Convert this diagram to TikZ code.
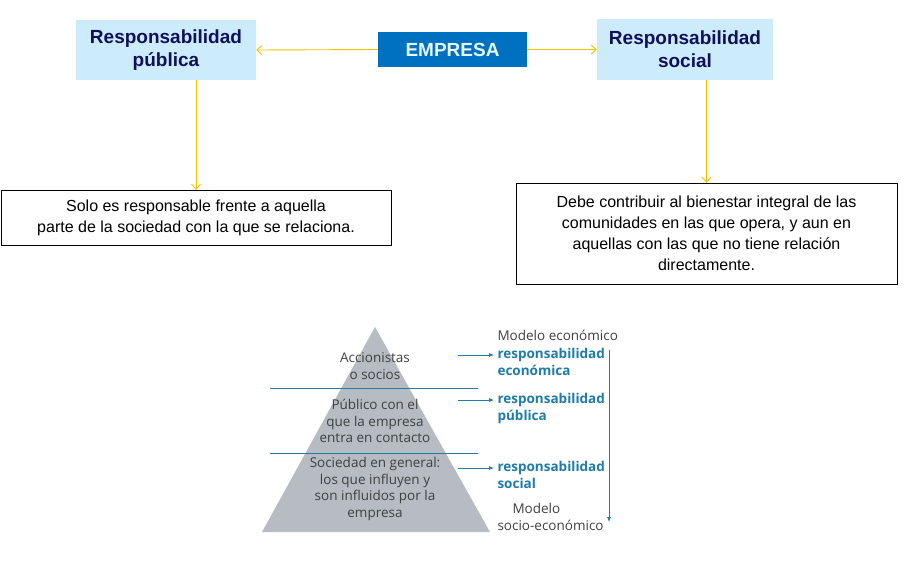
\documentclass[tikz,border=0pt]{standalone}
\usepackage{fontspec}
\setmainfont{Liberation Sans}
\newfontfamily\pyr{Open Sans}
\usetikzlibrary{arrows.meta}
\definecolor{yl}{HTML}{F2C200}
\definecolor{lbf}{HTML}{CCECFC}
\definecolor{lbt}{HTML}{10105A}
\definecolor{emf}{HTML}{0070C0}
\definecolor{pyg}{HTML}{B6BCC2}
\definecolor{bl}{HTML}{1E7BAA}
\begin{document}
\begin{tikzpicture}[x=1pt,y=-1pt,
 lb/.style={fill=lbf,draw=none,text=lbt,font=\bfseries\fontsize{19}{23}\selectfont,align=center},
 tb/.style={draw=black,fill=white,font=\fontsize{16}{21}\selectfont,align=center},
 ya/.style={draw=yl,line width=0.9pt,-{Straight Barb[length=5pt,width=9pt]}},
 pt/.style={font=\pyr\fontsize{13.5}{16.5}\selectfont,text=black!75,align=center},
 rt/.style={font=\pyr\bfseries\fontsize{13.5}{16.5}\selectfont,text=bl,align=left,anchor=north west},
 ba/.style={draw=bl,line width=0.7pt,-{Latex[length=5pt,width=4pt]}}]
\useasboundingbox (0,0) rectangle (918,568);
\node[lb,minimum width=180,minimum height=60] (rp) at (166,50) {Responsabilidad\\pública};
\node[fill=emf,text=cyan!10!white,font=\bfseries\fontsize{19}{23}\selectfont,minimum width=149,minimum height=35] (em) at (452.5,49.5) {EMPRESA};
\node[lb,minimum width=176,minimum height=61] (rs) at (685,49.5) {Responsabilidad\\social};
\draw[ya] (em.west) -- (rp.east);
\draw[ya] (em.east) -- (rs.west);
\node[tb,minimum width=390,minimum height=55] (bl) at (196,217.5) {Solo es responsable frente a aquella\\parte de la sociedad con la que se relaciona.};
\node[tb,minimum width=381,minimum height=101] (br) at (706.5,233.5) {Debe contribuir al bienestar integral de las\\comunidades en las que opera, y aun en\\aquellas con las que no tiene relación\\directamente.};
\draw[ya] (rp.south -| bl.north) -- (bl.north);
\draw[ya] (rs.south -| br.north) -- (br.north);
% pyramid
\fill[pyg] (375,327) coordinate (ap) -- (490,532) -- (262,532) -- cycle;
\draw[bl] (270,388) -- (478,388);
\draw[bl] (270,453) -- (478,453);
\node[pt] (p1) at (375,366) {Accionistas\\o socios};
\node[pt] (p2) at (375,421) {Público con el\\que la empresa\\entra en contacto};
\node[pt] (p3) at (375,489) {Sociedad en general:\\los que influyen y\\son influidos por la\\empresa};
\node[font=\pyr\fontsize{13.5}{16.5}\selectfont,text=black!75,anchor=west] (me) at (494,335) {Modelo económico};
\node[rt] (r1) at (494,345) {responsabilidad\\económica};
\node[rt] (r2) at (494,390) {responsabilidad\\pública};
\node[rt] (r3) at (494,458) {responsabilidad\\social};
\node[font=\pyr\fontsize{13.5}{16.5}\selectfont,text=black!75,align=left,anchor=north west] (ms) at (494,500) {\hspace*{15pt}Modelo\\socio-económico};
\coordinate (a1) at (458,355); \coordinate (a2) at (458,400); \coordinate (a3) at (458,468);
\draw[ba] (a1) -- (a1 -| r1.west);
\draw[ba] (a2) -- (a2 -| r2.west);
\draw[ba] (a3) -- (a3 -| r3.west);
\coordinate (v1) at (609,350); \coordinate (v2) at (609,522);
\draw[ba] (v1) -- (v2);
\end{tikzpicture}
\end{document}
